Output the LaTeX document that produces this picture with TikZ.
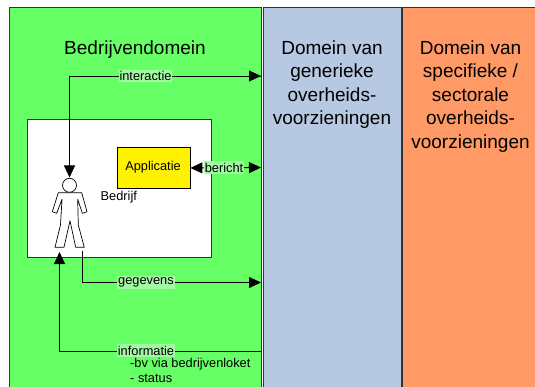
\documentclass[tikz,border=0pt]{standalone}
\usepackage{fontspec}
\setmainfont{Liberation Sans}
\usetikzlibrary{arrows.meta}
\definecolor{dgreen}{HTML}{66FF66}
\definecolor{dblue}{HTML}{B7C8E2}
\definecolor{dorange}{HTML}{FF9966}
\definecolor{lbl}{HTML}{A3F9A3}
\definecolor{edge}{HTML}{333333}
\tikzset{
  panel/.style={draw=edge,line width=0.9pt,inner sep=0pt,anchor=north west},
  head/.style={font=\fontsize{19}{23.5}\selectfont,align=center,anchor=north,inner sep=0pt},
  small/.style={font=\fontsize{12.8}{15}\selectfont,inner sep=0pt},
  flowlabel/.style={small,fill=lbl,inner xsep=1pt,inner ysep=1.5pt},
  conn/.style={line width=0.9pt,black},
  tip/.style={-{Triangle[length=12pt,width=11pt]}},
  bitip/.style={{Triangle[length=12pt,width=11pt]}-{Triangle[length=12pt,width=11pt]}},
}
\begin{document}
\begin{tikzpicture}[x=1pt,y=-1pt]
\useasboundingbox (0,0) rectangle (535,387);
\fill[white] (0,0) rectangle (535,387);
\clip (0,0) rectangle (535,387);
% domains
\path[panel,fill=dgreen] (9.5,7.5) rectangle (261.5,400);
\path[panel,fill=dblue] (263.5,7.5) rectangle (401,400);
\path[panel,fill=dorange] (402.5,7.5) rectangle (545,400);
\node[head] (t1) at (135,40.5) {Bedrijvendomein};
\node[head] (t2) at (332,40.5) {Domein van\\generieke\\overheids-\\voorzieningen};
\node[head] (t3) at (470.5,40.5) {Domein van\\specifieke /\\sectorale\\overheids-\\voorzieningen};
% company box
\node[panel,fill=white,minimum width=183.5pt,minimum height=137.5pt] (firm) at (27,119.5) {};
\node[panel,fill=yellow,minimum width=73pt,minimum height=41pt,draw=black] (app) at (116.5,147) {};
\node[small] (applabel) at (153,167.5) {Applicatie};
% person
\node[circle,draw=black,fill=white,line width=0.7pt,minimum size=14pt,inner sep=0pt] (head) at (69.5,185.3) {};
\draw[black,fill=white,line width=0.7pt,line join=round]
  (58.3,192.7) -- (81.7,192.7) -- (87,211.7) -- (82.3,213.3) -- (77.7,199.3)
  -- (78.3,225) -- (84.3,247.3) -- (75.7,247.3) -- (70,220.7) -- (64,247.3) -- (55,247.3)
  -- (60.5,225) -- (62,199.3) -- (56.7,213.3) -- (52.3,211.7) -- cycle;
\node[small,anchor=west] (firmlabel) at (100.5,197) {Bedrijf};
% anchors
\coordinate (gen1) at (261,76);
\coordinate (gen2) at (261,167.5);
\coordinate (gen3) at (261,282.5);
\coordinate (gen4) at (261,351);
\coordinate (pin) at (69.5,177.5);
\coordinate (pout) at (82,251);
\coordinate (pback) at (59.5,252);
% connectors
\draw[conn,tip] (gen1) -- (69.5,76) -- (pin);
\draw[conn,tip] (69.5,76) -- (gen1);
\draw[conn,bitip] (app.east) -- (gen2);
\draw[conn,tip] (pout) -- (82,282.5) -- (gen3);
\draw[conn,tip] (gen4) -- (59.5,351) -- (pback);
% labels
\node[flowlabel] (l1) at (145.5,76) {interactie};
\node[flowlabel] (l2) at (224,167.5) {bericht};
\node[flowlabel] (l3) at (146,282.5) {gegevens};
\node[flowlabel] (l4) at (146,350.5) {informatie};
\node[small,anchor=north west,align=left] (l5) at (130,358.5) {-bv via bedrijvenloket\\- status};
\end{tikzpicture}
\end{document}
